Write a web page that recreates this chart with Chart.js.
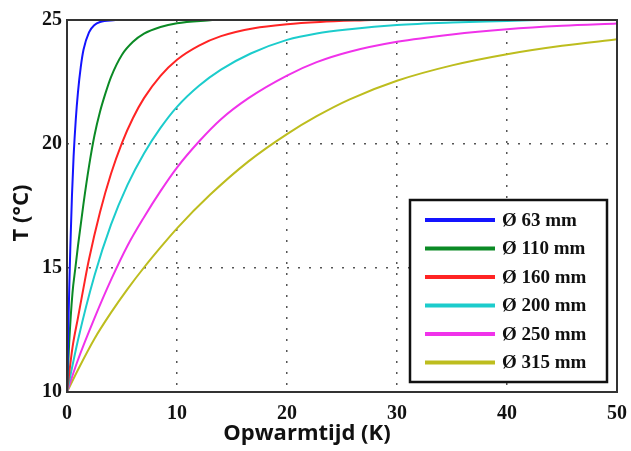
<!DOCTYPE html>
<html>
<head>
<meta charset="utf-8">
<script src="https://cdn.jsdelivr.net/npm/chart.js@4/dist/chart.umd.min.js"></script>
<style>
  body { margin: 0; background: #fff; }
  #wrap { width: 631px; height: 451px; }
</style>
</head>
<body>
<div id="wrap"><canvas id="chart" width="631" height="451"></canvas></div>
<script>
// tick labels
const xTicks = [0, 10, 20, 30, 40, 50]
const yTicks = [10, 15, 20, 25]

// series: [tijd, T]
const d63 = [[0, 10], [0.1, 12.2], [0.2, 14.1], [0.3, 15.8], [0.45, 17.9], [0.6, 19.5], [0.8, 21.0], [1.0, 22.1], [1.25, 23.1], [1.5, 23.8], [2, 24.5], [2.5, 24.8], [3, 24.92], [4.4, 25]]
const d110 = [[0, 10], [0.2, 12], [0.5, 14], [0.76, 15], [1, 15.9], [1.5, 17.6], [2, 19.1], [2.5, 20.35], [3, 21.3], [3.5, 22.05], [4, 22.7], [5, 23.6], [6, 24.12], [7, 24.45], [8.5, 24.72], [10, 24.87], [13.2, 25]]
const d160 = [[0, 10], [0.5, 11.8], [1, 13.0], [1.5, 14.2], [2, 15.35], [3, 17.25], [4, 18.8], [5, 20.05], [6, 21.05], [7, 21.85], [8.5, 22.75], [10, 23.4], [12, 23.97], [14, 24.35], [17, 24.67], [20, 24.83], [23, 24.92], [27.7, 25]]
const d200 = [[0, 10], [1, 12.1], [2.5, 14.7], [4, 16.75], [5.5, 18.35], [7, 19.62], [8.5, 20.65], [10, 21.5], [12, 22.35], [14, 23.0], [16.7, 23.65], [20, 24.2], [22.7, 24.46], [25.7, 24.63], [30, 24.8], [35, 24.9], [40, 24.96], [43, 25]]
const d250 = [[0, 10], [1, 11.3], [2.5, 12.98], [4, 14.52], [5.5, 15.9], [7, 17.05], [8.5, 18.1], [10, 19.05], [12, 20.1], [14, 21.0], [16.5, 21.85], [20, 22.76], [22.7, 23.3], [25.7, 23.72], [30, 24.12], [35, 24.42], [40, 24.63], [45, 24.77], [50, 24.86]]
const d315 = [[0, 10], [1, 10.9], [2.5, 12.15], [4, 13.2], [5.5, 14.15], [7, 15.02], [8.5, 15.83], [10, 16.6], [13, 17.95], [16.5, 19.3], [20, 20.4], [22.7, 21.12], [25.7, 21.8], [30, 22.55], [35, 23.17], [40, 23.62], [45, 23.96], [50, 24.22]]

const labels = ['Ø 63 mm', 'Ø 110 mm', 'Ø 160 mm', 'Ø 200 mm', 'Ø 250 mm', 'Ø 315 mm']
const series = [d63, d110, d160, d200, d250, d315]
const colors = ['#1414ff', '#0b8a25', '#ff2424', '#1ccccc', '#f032ea', '#bdbd1e']
const xTitle = 'Opwarmtijd (K)'
const yTitle = 'T (°C)'

const pts = arr => arr.map(p => ({ x: p[0], y: p[1] }))

// frame round the plot, axis titles and the legend box
const framePlugin = {
  id: 'frame',
  afterDraw(chart) {
    const { ctx, chartArea: a } = chart
    ctx.save()
    ctx.strokeStyle = '#333'
    ctx.lineWidth = 2
    ctx.strokeRect(a.left, a.top, a.right - a.left, a.bottom - a.top)

    // axis titles (sit a bit off-centre in the original)
    ctx.fillStyle = '#111'
    ctx.font = 'bold 22px "Open Sans"'
    ctx.textAlign = 'center'
    ctx.textBaseline = 'middle'
    ctx.fillText(xTitle, 307, 434)
    ctx.translate(22, 213)
    ctx.rotate(-Math.PI / 2)
    ctx.fillText(yTitle, 0, 0)
    ctx.setTransform(1, 0, 0, 1, 0, 0)

    // legend
    const bx = a.right - 207, by = a.top + 180, bw = 197, bh = 182
    ctx.fillStyle = '#fff'
    ctx.fillRect(bx, by, bw, bh)
    ctx.strokeStyle = '#111'
    ctx.lineWidth = 2.5
    ctx.strokeRect(bx, by, bw, bh)
    ctx.font = 'bold 19px "Liberation Serif"'
    ctx.textAlign = 'left'
    chart.data.datasets.forEach((ds, i) => {
      const y = by + 20 + i * 28.5
      ctx.strokeStyle = ds.borderColor
      ctx.lineWidth = 4
      ctx.beginPath()
      ctx.moveTo(bx + 15, y)
      ctx.lineTo(bx + 85, y)
      ctx.stroke()
      ctx.fillStyle = '#111'
      ctx.fillText(ds.label, bx + 92, y + 1)
    })
    ctx.restore()
  }
}

const gridColor = (min, max) => c => (c.tick.value === min || c.tick.value === max) ? 'rgba(0,0,0,0)' : '#555'

new Chart(document.getElementById('chart'), {
  type: 'line',
  data: {
    datasets: series.map((s, i) => ({
      label: labels[i],
      data: pts(s),
      borderColor: colors[i],
      borderWidth: 2,
      pointRadius: 0,
      cubicInterpolationMode: 'monotone',
      fill: false
    }))
  },
  options: {
    responsive: false,
    animation: false,
    layout: { padding: { top: 20, right: 14, left: 0, bottom: 0 } },
    plugins: {
      legend: { display: false },
      tooltip: { enabled: false }
    },
    scales: {
      x: {
        type: 'linear',
        min: 0,
        max: 50,
        afterBuildTicks: s => { s.ticks = xTicks.map(v => ({ value: v })) },
        afterFit: s => { s.height = 59; s.paddingLeft = 0; s.paddingRight = 0 },
        grid: { color: gridColor(0, 50), lineWidth: 1.5, drawTicks: false },
        border: { display: false, dash: [2, 9] },
        ticks: {
          color: '#111',
          padding: 10,
          font: { family: 'Liberation Serif', weight: 'bold', size: 20 }
        }
      },
      y: {
        min: 10,
        max: 25,
        afterBuildTicks: s => { s.ticks = yTicks.map(v => ({ value: v })) },
        afterFit: s => { s.width = 67 },
        grid: { color: gridColor(10, 25), lineWidth: 1.5, drawTicks: false },
        border: { display: false, dash: [2, 9] },
        ticks: {
          color: '#111',
          padding: 5,
          font: { family: 'Liberation Serif', weight: 'bold', size: 20 }
        }
      }
    }
  },
  plugins: [framePlugin]
})
</script>
</body>
</html>
